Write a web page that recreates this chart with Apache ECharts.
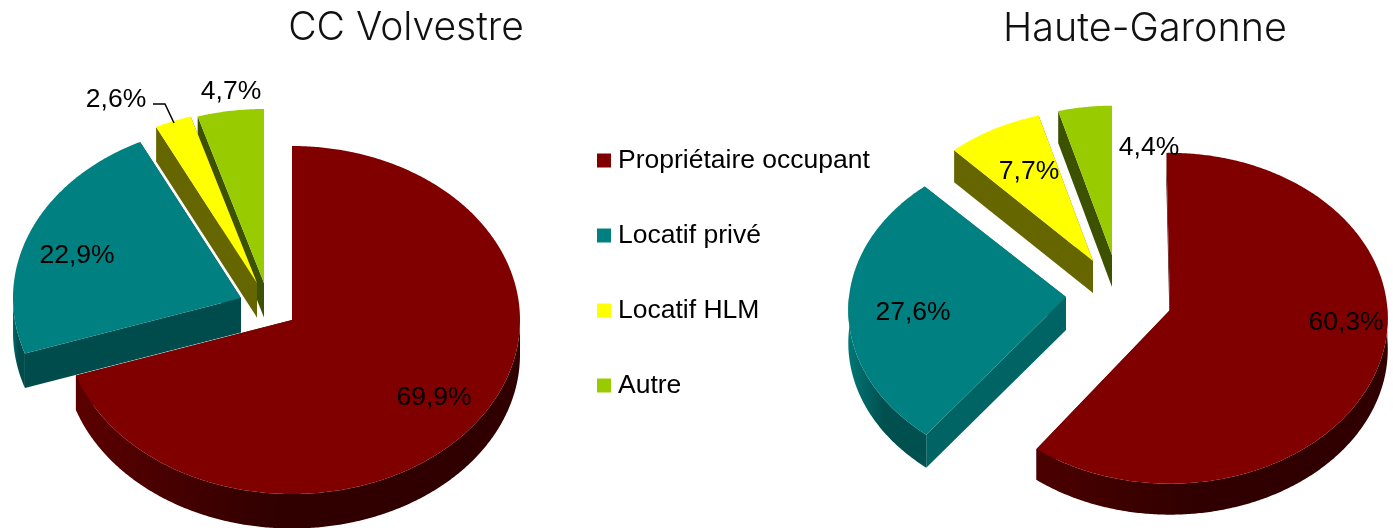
<!DOCTYPE html>
<html>
<head>
<meta charset="utf-8">
<style>
  html, body { margin: 0; padding: 0; background: #fff; }
  #chart { width: 1393px; height: 528px; }
</style>
<script src="https://cdn.jsdelivr.net/npm/echarts@6/dist/echarts.min.js"></script>
</head>
<body>
<div id="chart"></div>
<script>
// data
var categories = ['Propriétaire occupant', 'Locatif privé', 'Locatif HLM', 'Autre'];
var volvestreValues = [69.9, 22.9, 2.6, 4.7];
var garonneValues = [60.3, 27.6, 7.7, 4.4];
var pieTitles = ['CC Volvestre', 'Haute-Garonne'];

var faceColors = ['#800000', '#008080', '#ffff00', '#99cc00'];
var LABEL_FONT = '26.5px "Liberation Sans", Arial, sans-serif';

// paint order, back to front
var drawOrder = [0, 3, 2, 1];

/* layout of the two fake 3d pies : apex = where the exploded slice tip lands */
var volvestreLayout = {
    rx: 228, ry: 174, depth: 34.5, persp: 0,
    slices: [
        { apex: [292, 320], scale: 1, label: [434, 398], edge: '#5a0000', arc: ['#5c0000', '#300000', '#300000'] },
        { apex: [241, 298], scale: 1, label: [77, 256], edge: '#004c4c', arc: ['#006a6a', '#004c4c', '#004c4c'] },
        { apex: [257, 283], scale: 1, label: [116, 100], edge: '#666600', arc: ['#666600', '#666600', '#666600'],
          leader: [[153, 104], [165, 104], [174, 123]] },
        { apex: [264, 283], scale: 1, label: [231, 92], edge: '#3d5200', arc: ['#3d5200', '#3d5200', '#3d5200'] }
    ]
};
var garonneLayout = {
    rx: 217.5, ry: 165, depth: 32, persp: 0.05,
    slices: [
        { apex: [1170, 310], scale: 1, rotate: -1, depth: 31, label: [1346, 323], edge: '#4a0000', arc: ['#4c0000', '#300000', '#300000'] },
        { apex: [1066, 297], scale: 1, persp: 0.08, ry: 161.5, rx: 217, depth: 33, label: [913, 313], edge: '#006464', arc: ['#007676', '#005050', '#005050'] },
        { apex: [1093, 261], scale: 0.96, label: [1029, 172], edge: '#666600', arc: ['#666600', '#666600', '#666600'] },
        { apex: [1112, 255], scale: 0.95, label: [1149, 148], edge: '#3d5200', arc: ['#3d5200', '#3d5200', '#3d5200'] }
    ]
};

function rimPoint(layout, slice, deg) {
    var a = (deg + (slice.rotate || 0)) * Math.PI / 180;
    var persp = slice.persp !== undefined ? slice.persp : layout.persp;
    var s = slice.scale / (1 + persp * Math.cos(a));
    return [
        slice.apex[0] + (slice.rx || layout.rx) * Math.sin(a) * s,
        slice.apex[1] - (slice.ry || layout.ry) * Math.cos(a) * s
    ];
}

function arcPoints(layout, slice, from, to) {
    var pts = [];
    for (var d = from; d < to; d += 0.5) {
        pts.push(rimPoint(layout, slice, d));
    }
    pts.push(rimPoint(layout, slice, to));
    return pts;
}

function wallPolygon(top, depth) {
    var pts = top.slice();
    for (var i = top.length - 1; i >= 0; i--) {
        pts.push([top[i][0], top[i][1] + depth]);
    }
    return pts;
}

function formatPct(v) {
    return v.toFixed(1).replace('.', ',') + '%';
}

function sliceRenderer(values, layout, idx) {
    var total = values.reduce(function (a, b) { return a + b; }, 0);
    var before = values.slice(0, idx).reduce(function (a, b) { return a + b; }, 0);
    var start = before / total * 360;
    var end = (before + values[idx]) / total * 360;
    var slice = layout.slices[idx];
    var depth = slice.depth || layout.depth;

    return function (params, api) {
        var value = api.value(0);
        var rim = arcPoints(layout, slice, start, end);
        var children = [];

        // radial walls, the top face hides the ones facing backwards
        [rim[0], rim[rim.length - 1]].forEach(function (p) {
            children.push({
                type: 'polygon',
                shape: { points: wallPolygon([slice.apex, p], depth) },
                style: { fill: slice.edge }
            });
        });

        // outer wall, front half only
        var wallFrom = Math.max(start, 90);
        var wallTo = Math.min(end, 270);
        if (wallTo > wallFrom) {
            children.push({
                type: 'polygon',
                shape: { points: wallPolygon(arcPoints(layout, slice, wallFrom, wallTo), depth) },
                style: {
                    fill: {
                        type: 'linear', x: 0, y: 0, x2: 1, y2: 0,
                        colorStops: [
                            { offset: 0, color: slice.arc[0] },
                            { offset: 0.45, color: slice.arc[1] },
                            { offset: 1, color: slice.arc[2] }
                        ]
                    }
                }
            });
        }

        children.push({
            type: 'polygon',
            shape: { points: [slice.apex].concat(rim) },
            style: { fill: faceColors[idx] }
        });

        if (slice.leader) {
            children.push({
                type: 'polyline',
                z2: 100,
                shape: { points: slice.leader },
                style: { stroke: '#000', lineWidth: 1.5, fill: null }
            });
        }
        children.push({
            type: 'text',
            z2: 101,
            x: slice.label[0],
            y: slice.label[1],
            style: {
                text: formatPct(value),
                font: LABEL_FONT,
                fill: '#000',
                align: 'center',
                verticalAlign: 'middle'
            }
        });
        return { type: 'group', children: children };
    };
}

var series = [];
[[volvestreValues, volvestreLayout], [garonneValues, garonneLayout]].forEach(function (pie) {
    drawOrder.forEach(function (idx) {
        series.push({
            type: 'custom',
            name: categories[idx],
            coordinateSystem: 'none',
            itemStyle: { color: faceColors[idx] },
            silent: true,
            animation: false,
            data: [pie[0][idx]],
            renderItem: sliceRenderer(pie[0], pie[1], idx)
        });
    });
});

var chart = echarts.init(document.getElementById('chart'), null, { renderer: 'canvas' });
chart.setOption({
    animation: false,
    backgroundColor: '#fff',
    title: [
        { text: pieTitles[0], left: 401, top: 4, textAlign: 'center',
          textStyle: { fontFamily: 'Inter', fontWeight: 300, fontSize: 39, color: '#111' } },
        { text: pieTitles[1], left: 1140, top: 4, textAlign: 'center',
          textStyle: { fontFamily: 'Inter', fontWeight: 300, fontSize: 39.5, color: '#111' } }
    ],
    legend: {
        orient: 'vertical',
        left: 592,
        top: 142,
        data: categories,
        icon: 'rect',
        itemWidth: 14,
        itemHeight: 14,
        itemGap: 48,
        selectedMode: false,
        textStyle: {
            fontFamily: '"Liberation Sans", Arial, sans-serif',
            fontSize: 26.5,
            color: '#000',
            padding: [0, 0, 0, 2]
        }
    },
    series: series
});
</script>
</body>
</html>
